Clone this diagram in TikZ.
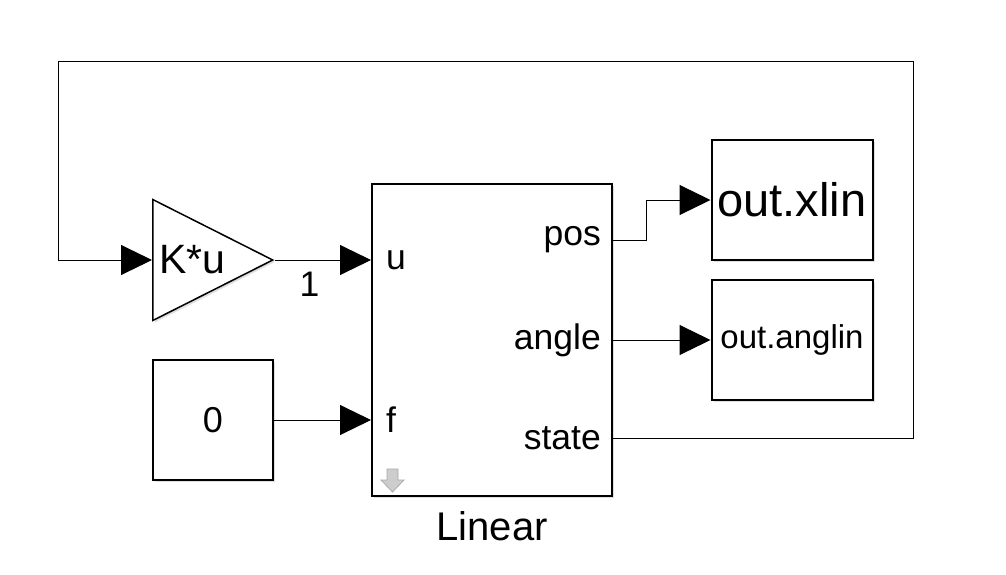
\documentclass[tikz,border=0pt]{standalone}
\usepackage{fontspec}
\setmainfont{Liberation Sans}
\usepackage{tikz}
\usetikzlibrary{shapes.geometric, arrows.meta, positioning, shadows}
\definecolor{icongray}{RGB}{205,205,205}
\definecolor{iconedge}{RGB}{170,170,170}

\begin{document}
\begin{tikzpicture}[x=1pt, y=-1pt,
    blk/.style={rectangle, draw=black, line width=2pt, fill=white, inner sep=0pt,
        drop shadow={shadow xshift=2pt, shadow yshift=-2pt, opacity=0.25},
        font=\fontsize{36}{40}\selectfont},
    gainblk/.style={isosceles triangle, isosceles triangle stretches, draw=black, line width=1.5pt,
        fill=white, minimum width=121pt, minimum height=120pt, inner sep=0pt,
        drop shadow={shadow xshift=2pt, shadow yshift=-2pt, opacity=0.25}},
    port/.style={inner sep=0pt, font=\fontsize{35.5}{40}\selectfont},
    arr/.style={-{Triangle[length=31pt, width=30pt]}, line width=1pt},
    wire/.style={line width=1pt}
]
\useasboundingbox[fill=white] (0,0) rectangle (1006,574);

% blocks
\node[gainblk, anchor=west] (gain) at (152,260) {};
\node[port, anchor=west, font=\fontsize{41}{46}\selectfont] (gaintxt) at (159,260) {K*u};
\node[blk, minimum width=240pt, minimum height=312pt] (lin) at (492,340) {};
\node[blk, minimum width=120pt, minimum height=120pt] (const) at (213,420) {0};
\node[blk, minimum width=161pt, minimum height=120pt, font=\fontsize{47}{52}\selectfont] (xlin) at (792,200) {out.xlin};
\node[blk, minimum width=161pt, minimum height=120pt, font=\fontsize{33}{38}\selectfont] (anglin) at (792,340) {out.anglin};
\node[below=14pt of lin, inner sep=0pt, font=\fontsize{40}{44}\selectfont] (linname) {Linear};

% ports of the linear block
\node[port, anchor=west] (u) at (386,260) {u};
\node[port, anchor=west] (f) at (386,420) {f};
\node[port, anchor=east] (pos) at (601,240) {pos};
\node[port, anchor=east] (angle) at (601,340) {angle};
\node[port, anchor=east] (state) at (601,438) {state};
\filldraw[fill=icongray, draw=iconedge, line width=0.8pt]
    (387,469) -- (398,469) -- (398,480) -- (404,480) -- (392.5,492) -- (381,480) -- (387,480) -- cycle;

% feedback corners
\coordinate (fbr) at (913,61);
\coordinate (fbl) at (58,61);

% signals
\draw[arr] (gain.apex) -- (u.west -| lin.west) node[pos=0.36, below=12pt, port] (gsig) {1};
\draw[arr] (const.east |- f.west) -- (f.west -| lin.west);
\draw[arr] (pos -| lin.east) -- ++(33,0) |- (xlin.west);
\draw[arr] (angle -| lin.east) -- (anglin.west);
\draw[arr] (state -| lin.east) -| (fbr) -- (fbl) |- (gain.west);
\end{tikzpicture}
\end{document}
